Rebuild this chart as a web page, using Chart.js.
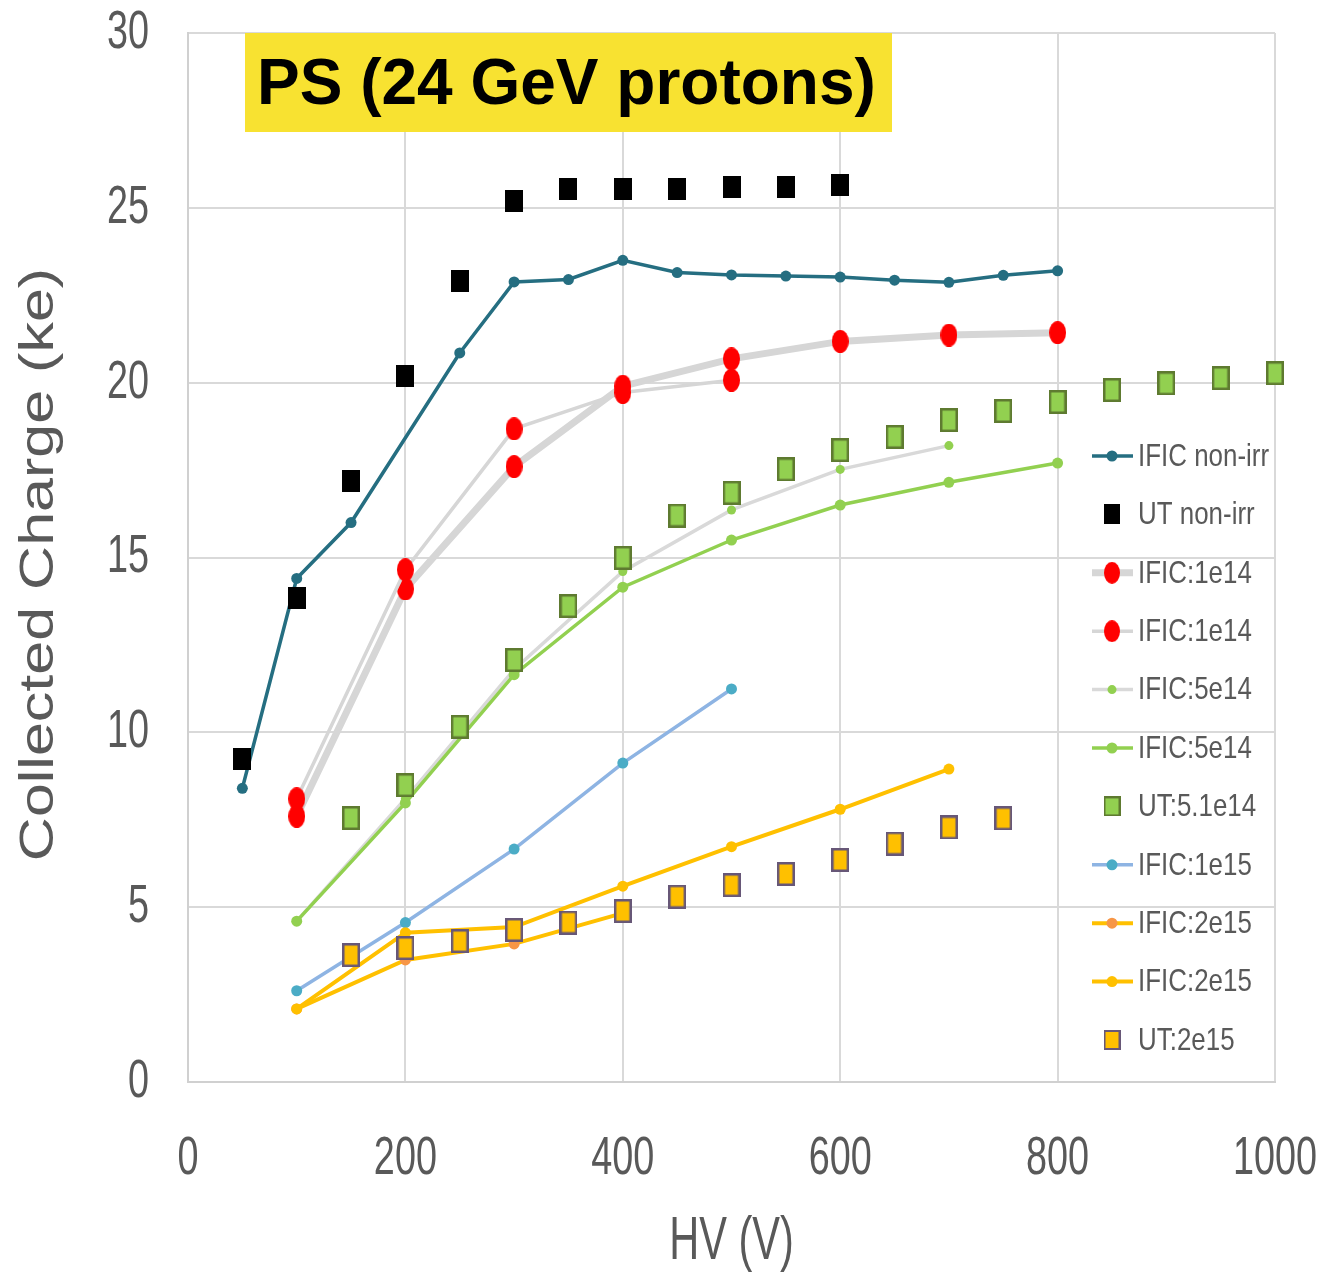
<!DOCTYPE html>
<html>
<head>
<meta charset="utf-8">
<script src="https://cdn.jsdelivr.net/npm/chart.js@4.4.0/dist/chart.umd.min.js"></script>
<style>
  html, body { margin: 0; padding: 0; background: #ffffff; }
  #wrap { position: relative; width: 1321px; height: 1272px; }
  #titleBox {
    position: absolute; left: 245px; top: 33px; width: 647px; height: 99px;
    background: #F8E231; font-family: "Liberation Sans", Arial, sans-serif;
    font-weight: bold; font-size: 64px; color: #000; line-height: 99px;
    padding-left: 12px; box-sizing: border-box; white-space: nowrap;
  }
</style>
</head>
<body>
<div id="wrap">
  <canvas id="c" width="1321" height="1272"></canvas>
  <div id="titleBox">PS (24 GeV protons)</div>
</div>
<script>
// ---------------- DATA ----------------
const xTicks = [0, 200, 400, 600, 800, 1000];
const yTicks = [0, 5, 10, 15, 20, 25, 30];
const xTitle = 'HV (V)';
const yTitle = 'Collected Charge (ke)';

const seriesNames = ["IFIC non-irr", "UT non-irr", "IFIC:1e14", "IFIC:1e14", "IFIC:5e14", "IFIC:5e14",
                     "UT:5.1e14", "IFIC:1e15", "IFIC:2e15", "IFIC:2e15", "UT:2e15"];

const hvIficNonIrr = [50, 100, 150, 250, 300, 350, 400, 450, 500, 550, 600, 650, 700, 750, 800];
const qIficNonIrr  = [8.4, 14.4, 16.0, 20.85, 22.88, 22.95, 23.5, 23.15, 23.08, 23.05, 23.02, 22.93, 22.87, 23.07, 23.2];

const hvUtNonIrr = [50, 100, 150, 200, 250, 300, 350, 400, 450, 500, 550, 600];
const qUtNonIrr  = [9.25, 13.85, 17.2, 20.2, 22.9, 25.2, 25.53, 25.53, 25.53, 25.6, 25.6, 25.65];

const hvIfic1e14a = [100, 200, 300, 400, 500, 600, 700, 800];
const qIfic1e14a  = [7.6, 14.1, 17.6, 19.9, 20.68, 21.18, 21.36, 21.43];

const hvIfic1e14b = [100, 200, 300, 400, 500];
const qIfic1e14b  = [8.1, 14.65, 18.68, 19.72, 20.07];

const hvIfic5e14a = [100, 200, 300, 400, 500, 600, 700];
const qIfic5e14a  = [4.6, 8.1, 11.8, 14.6, 16.36, 17.52, 18.2];

const hvIfic5e14b = [100, 200, 300, 400, 500, 600, 700, 800];
const qIfic5e14b  = [4.6, 7.98, 11.65, 14.15, 15.5, 16.5, 17.15, 17.7];

const hvUt51e14 = [150, 200, 250, 300, 350, 400, 450, 500, 550, 600, 650, 700, 750, 800, 850, 900, 950, 1000];
const qUt51e14  = [7.55, 8.49, 10.16, 12.07, 13.61, 14.99, 16.2, 16.85, 17.52, 18.07, 18.45, 18.93, 19.19, 19.45, 19.79, 19.98, 20.13, 20.27];

const hvIfic1e15 = [100, 200, 300, 400, 500];
const qIfic1e15  = [2.61, 4.56, 6.66, 9.12, 11.24];

const hvIfic2e15a = [100, 200, 300, 400];
const qIfic2e15a  = [2.09, 3.49, 3.95, 4.83];

const hvIfic2e15b = [100, 200, 300, 400, 500, 600, 700];
const qIfic2e15b  = [2.09, 4.27, 4.43, 5.6, 6.73, 7.8, 8.95];

const hvUt2e15 = [150, 200, 250, 300, 350, 400, 450, 500, 550, 600, 650, 700, 750];
const qUt2e15  = [3.63, 3.83, 4.03, 4.35, 4.56, 4.89, 5.3, 5.63, 5.95, 6.35, 6.82, 7.28, 7.54];

// --------------- STYLE HELPERS ---------------
function rectImg(w, h, fill, stroke, lw) {
  const c = document.createElement('canvas');
  c.width = w; c.height = h;
  const g = c.getContext('2d');
  g.fillStyle = fill; g.fillRect(0, 0, w, h);
  if (stroke) { g.strokeStyle = stroke; g.lineWidth = lw; g.strokeRect(lw / 2, lw / 2, w - lw, h - lw); }
  return c;
}
function ellipseImg(w, h, fill) {
  const c = document.createElement('canvas');
  c.width = w; c.height = h;
  const g = c.getContext('2d');
  g.fillStyle = fill;
  g.beginPath(); g.ellipse(w / 2, h / 2, w / 2, h / 2, 0, 0, Math.PI * 2); g.fill();
  return c;
}
function pts(xs, ys) { return xs.map((x, i) => ({ x: x, y: ys[i] })); }

const imgBlack  = rectImg(18, 22, '#000000', null, 0);
const imgGreen  = rectImg(18, 24, '#92D050', '#5E7A30', 2.5);
const imgYellow = rectImg(18, 24, '#FFC000', '#675777', 2.5);
const imgRed    = ellipseImg(17, 23, '#FF0000');
const imgBlackL  = rectImg(16, 20, '#000000', null, 0);
const imgGreenL  = rectImg(17, 20, '#92D050', '#5E7A30', 2);
const imgYellowL = rectImg(17, 20, '#FFC000', '#675777', 2);
const imgRedL    = ellipseImg(16, 22, '#FF0000');

const styles = [
  { data: pts(hvIficNonIrr, qIficNonIrr), line: true, borderColor: '#256E81', borderWidth: 3.5, pointRadius: 5.5, pointColor: '#256E81' },
  { data: pts(hvUtNonIrr, qUtNonIrr), line: false, pointStyle: imgBlack, legendImg: imgBlackL, pointRadius: 10 },
  { data: pts(hvIfic1e14a, qIfic1e14a), line: true, borderColor: '#D6D6D6', borderWidth: 7, pointStyle: imgRed, legendImg: imgRedL, pointRadius: 10 },
  { data: pts(hvIfic1e14b, qIfic1e14b), line: true, borderColor: '#D6D6D6', borderWidth: 3.5, pointStyle: imgRed, legendImg: imgRedL, pointRadius: 10 },
  { data: pts(hvIfic5e14a, qIfic5e14a), line: true, borderColor: '#D9D9D9', borderWidth: 3.5, pointRadius: 4.5, pointColor: '#92D050' },
  { data: pts(hvIfic5e14b, qIfic5e14b), line: true, borderColor: '#92D050', borderWidth: 3.5, pointRadius: 5.5, pointColor: '#92D050' },
  { data: pts(hvUt51e14, qUt51e14), line: false, pointStyle: imgGreen, legendImg: imgGreenL, pointRadius: 10 },
  { data: pts(hvIfic1e15, qIfic1e15), line: true, borderColor: '#8EB4E3', borderWidth: 3.5, pointRadius: 5.5, pointColor: '#4BACC6' },
  { data: pts(hvIfic2e15a, qIfic2e15a), line: true, borderColor: '#FFC000', borderWidth: 4, pointRadius: 5.5, pointColor: '#F79646' },
  { data: pts(hvIfic2e15b, qIfic2e15b), line: true, borderColor: '#FFC000', borderWidth: 4, pointRadius: 5.5, pointColor: '#FFC000' },
  { data: pts(hvUt2e15, qUt2e15), line: false, pointStyle: imgYellow, legendImg: imgYellowL, pointRadius: 10 }
];

const datasets = styles.map((s, i) => ({
  label: seriesNames[i],
  data: s.data,
  showLine: s.line,
  borderColor: s.line ? s.borderColor : 'rgba(0,0,0,0)',
  borderWidth: s.line ? s.borderWidth : 0,
  pointStyle: s.pointStyle || 'circle',
  pointRadius: s.pointRadius,
  pointHoverRadius: s.pointRadius,
  pointBackgroundColor: s.pointColor || '#000',
  pointBorderColor: s.pointColor || '#000',
  pointBorderWidth: 0,
  tension: 0,
  clip: false,
  order: styles.length - i
}));

const GRAY_TEXT = '#595959';
const FONT = '"Liberation Sans", Arial, sans-serif';

function squeezedText(ctx, text, x, y, size, sx, align) {
  ctx.save();
  ctx.translate(x, y);
  ctx.scale(sx, 1);
  ctx.font = size + 'px ' + FONT;
  ctx.fillStyle = GRAY_TEXT;
  ctx.textAlign = align;
  ctx.textBaseline = 'middle';
  ctx.fillText(text, 0, 0);
  ctx.restore();
}

const textPlugin = {
  id: 'axisText',
  afterDraw(chart) {
    const ctx = chart.ctx;
    const area = chart.chartArea;
    const xs = chart.scales.x, ys = chart.scales.y;
    // tick labels, placed by the library's scales
    xs.ticks.forEach(t => squeezedText(ctx, String(t.value), xs.getPixelForValue(t.value), 1159, 54, 0.7, 'center'));
    ys.ticks.forEach(t => squeezedText(ctx, String(t.value), 149, ys.getPixelForValue(t.value), 54, 0.7, 'right'));
    // x title
    squeezedText(ctx, xTitle, (area.left + area.right) / 2, 1242, 62, 0.67, 'center');
    // y title
    ctx.save();
    ctx.translate(40, (area.top + area.bottom) / 2 + 7);
    ctx.rotate(-Math.PI / 2);
    ctx.scale(1, 0.78);
    ctx.font = '61px ' + FONT;
    ctx.fillStyle = GRAY_TEXT;
    ctx.textAlign = 'center';
    ctx.textBaseline = 'middle';
    ctx.fillText(yTitle, 0, 0);
    ctx.restore();
  }
};

const legendPlugin = {
  id: 'customLegend',
  afterDraw(chart) {
    const ctx = chart.ctx;
    const y0 = 456, dy = 58.4;
    const lx1 = 1092, lx2 = 1133, mx = 1112, tx = 1138;
    ctx.save();
    styles.forEach((s, i) => {
      const y = y0 + dy * i;
      if (s.line) {
        ctx.strokeStyle = s.borderColor;
        ctx.lineWidth = s.borderWidth;
        ctx.beginPath(); ctx.moveTo(lx1, y); ctx.lineTo(lx2, y); ctx.stroke();
      }
      if (s.legendImg) {
        ctx.drawImage(s.legendImg, mx - s.legendImg.width / 2, y - s.legendImg.height / 2);
      } else {
        ctx.fillStyle = s.pointColor;
        ctx.beginPath(); ctx.arc(mx, y, s.pointRadius, 0, Math.PI * 2); ctx.fill();
      }
      squeezedText(ctx, seriesNames[i], tx, y + 1, 32, 0.81, 'left');
    });
    ctx.restore();
  }
};

function noPad(scale) {
  scale.paddingLeft = 0; scale.paddingRight = 0; scale.paddingTop = 0; scale.paddingBottom = 0;
}

new Chart(document.getElementById('c'), {
  type: 'scatter',
  data: { datasets: datasets },
  options: {
    responsive: false,
    animation: false,
    events: [],
    layout: { padding: { top: 33, right: 46, left: 0, bottom: 0 } },
    plugins: { legend: { display: false }, tooltip: { enabled: false }, title: { display: false } },
    scales: {
      x: {
        type: 'linear', min: xTicks[0], max: xTicks[xTicks.length - 1],
        afterFit(scale) { scale.height = 190; noPad(scale); },
        afterBuildTicks(scale) { scale.ticks = xTicks.map(v => ({ value: v })); },
        grid: { color: '#D9D9D9', lineWidth: 2, drawTicks: false },
        border: { color: '#D0D0D0', width: 2 },
        ticks: { display: false }
      },
      y: {
        type: 'linear', min: yTicks[0], max: yTicks[yTicks.length - 1],
        afterFit(scale) { scale.width = 188; noPad(scale); },
        afterBuildTicks(scale) { scale.ticks = yTicks.map(v => ({ value: v })); },
        grid: { color: '#D9D9D9', lineWidth: 2, drawTicks: false },
        border: { color: '#D0D0D0', width: 2 },
        ticks: { display: false }
      }
    }
  },
  plugins: [textPlugin, legendPlugin]
});
</script>
</body>
</html>
